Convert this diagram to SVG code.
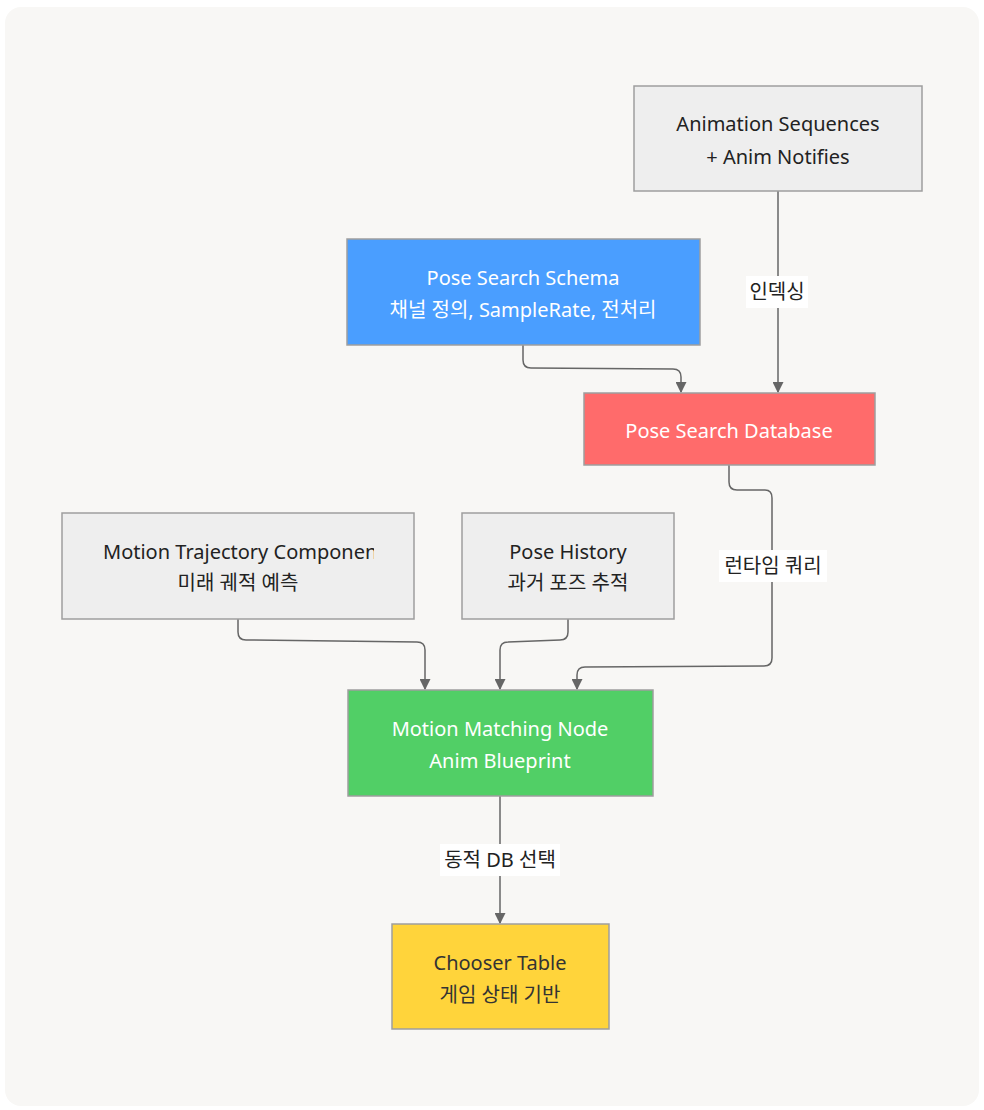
<svg xmlns="http://www.w3.org/2000/svg" width="984" height="1110" viewBox="0 0 984 1110">
<defs>
<style>
.node{stroke:#9e9e9e;stroke-width:1.5}
.t{font-family:"Noto Sans","Noto Sans CJK KR",sans-serif;font-size:20px;text-anchor:middle}
.dk{fill:#222}
.wt{fill:#ffffff}
.edge{fill:none;stroke:#666;stroke-width:1.5}
.lbg{fill:#ffffff}
</style>
<marker id="arr" viewBox="0 0 10 10" refX="9" refY="5" markerWidth="11" markerHeight="11" markerUnits="userSpaceOnUse" orient="auto">
<path d="M0,0 L10,5 L0,10 z" fill="#666"/>
</marker>
<clipPath id="clipTraj"><rect x="62" y="513" width="312" height="106"/></clipPath>
</defs>
<rect x="0" y="0" width="984" height="1110" fill="#ffffff"/>
<rect x="5" y="7" width="974" height="1099" rx="16" fill="#f8f7f5"/>

<g id="connectors">
<path class="edge" d="M778,191 L778,392" marker-end="url(#arr)"/>
<path class="edge" d="M523,345 L523,360 Q523,368 531,368 L673,369 Q681,369 681,377 L681,392" marker-end="url(#arr)"/>
<path class="edge" d="M729,465 L729,482 Q729,490 737,490 L765,490 Q772,490 772,498 L772,658 Q772,666 764,666 L585,667 Q577,667 577,675 L577,689" marker-end="url(#arr)"/>
<path class="edge" d="M238,619 L238,632 Q238,640 246,640 L417,642 Q425,642 425,650 L425,689" marker-end="url(#arr)"/>
<path class="edge" d="M568,619 L568,632 Q568,640 560,640 L508,642 Q500,642 500,650 L500,689" marker-end="url(#arr)"/>
<path class="edge" d="M500,796 L500,923" marker-end="url(#arr)"/>
<rect class="lbg" x="746" y="276" width="62" height="32"/>
<text class="t dk" x="777" y="299">인덱싱</text>
<rect class="lbg" x="719" y="550" width="108" height="32"/>
<text class="t dk" x="773" y="573">런타임 쿼리</text>
<rect class="lbg" x="440" y="844" width="120" height="32"/>
<text class="t dk" x="500" y="867">동적 DB 선택</text>
</g>

<g id="animSeq">
<rect class="node" x="634" y="86" width="288" height="105" fill="#eeeeee"/>
<text class="t dk" x="778" y="131">Animation Sequences</text>
<text class="t dk" x="778" y="164">+ Anim Notifies</text>
</g>

<g id="schema">
<rect class="node" x="347" y="239" width="353" height="106" fill="#4a9eff"/>
<text class="t wt" x="523" y="285">Pose Search Schema</text>
<text class="t wt" x="523" y="317">채널 정의, SampleRate, 전처리</text>
</g>

<g id="database">
<rect class="node" x="584" y="393" width="291" height="72" fill="#ff6b6b"/>
<text class="t wt" x="729" y="438">Pose Search Database</text>
</g>

<g id="trajectory">
<rect class="node" x="62" y="513" width="352" height="106" fill="#eeeeee"/>
<g clip-path="url(#clipTraj)">
<text class="t dk" x="103" y="559" style="text-anchor:start">Motion Trajectory Component</text>
</g>
<text class="t dk" x="238" y="590">미래 궤적 예측</text>
</g>

<g id="poseHistory">
<rect class="node" x="462" y="513" width="212" height="106" fill="#eeeeee"/>
<text class="t dk" x="568" y="559">Pose History</text>
<text class="t dk" x="568" y="590">과거 포즈 추적</text>
</g>

<g id="motionMatching">
<rect class="node" x="348" y="690" width="305" height="106" fill="#51cf66"/>
<text class="t wt" x="500" y="736">Motion Matching Node</text>
<text class="t wt" x="500" y="768">Anim Blueprint</text>
</g>

<g id="chooser">
<rect class="node" x="392" y="924" width="217" height="105" fill="#ffd43b"/>
<text class="t" x="500" y="970" fill="#333">Chooser Table</text>
<text class="t" x="500" y="1002" fill="#333">게임 상태 기반</text>
</g>
</svg>
